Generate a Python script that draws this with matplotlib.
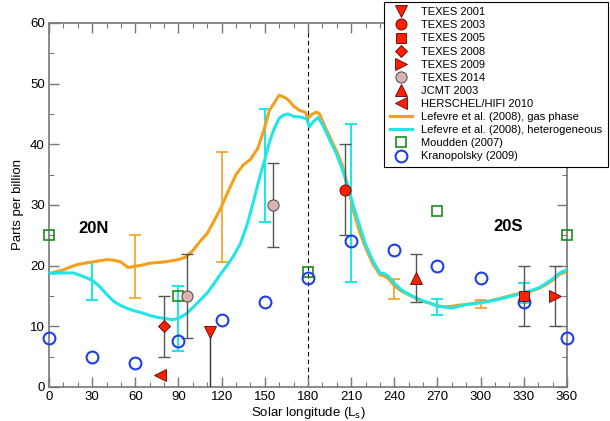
import matplotlib
matplotlib.use("Agg")
import matplotlib.pyplot as plt
import numpy as np

plt.rcParams['font.family'] = ['Liberation Sans', 'DejaVu Sans']

# ---------------- data ----------------
gas_L = [0, 5, 10, 15, 20, 25, 30, 35, 40, 45, 50, 55, 60, 65, 70, 75, 80, 85, 90, 95,
         100, 105, 110, 115, 120, 125, 130, 135, 140, 145, 150, 153, 157, 160, 163, 166,
         170, 174, 178, 180, 183, 186, 188, 192, 196, 200, 204, 208, 212, 216, 220, 225,
         230, 233, 236, 240, 245, 250, 255, 260, 265, 270, 275, 280, 285, 290, 295, 300,
         305, 310, 315, 320, 325, 330, 335, 340, 345, 350, 355, 360]
gas_v = [18.7, 19.0, 19.3, 19.8, 20.2, 20.4, 20.6, 20.8, 21.0, 20.9, 20.6, 19.7, 19.9, 20.1,
         20.4, 20.5, 20.6, 20.8, 21.0, 21.4, 22.5, 24.0, 25.3, 27.5, 29.8, 32.5, 35.0, 36.6,
         37.5, 39.3, 42.8, 45.5, 47.0, 48.1, 47.8, 47.4, 46.3, 45.6, 45.3, 44.3, 45.0, 45.3,
         45.0, 42.8, 40.8, 38.8, 36.5, 32.8, 28.7, 25.5, 23.0, 20.3, 18.5, 18.3, 17.8, 16.7,
         15.8, 15.2, 14.6, 14.1, 13.8, 13.4, 13.2, 13.3, 13.5, 13.6, 13.8, 14.0, 14.1, 14.4,
         14.7, 15.0, 15.3, 15.6, 15.8, 16.2, 16.8, 17.6, 18.6, 19.0]

het_L = [0, 10, 17, 24, 30, 35, 40, 45, 50, 55, 60, 65, 70, 75, 80, 86, 90, 95, 100, 105,
         110, 114, 118, 123, 128, 133, 138, 142, 146, 150, 153, 156, 160, 163, 166, 170,
         175, 179, 181, 184, 187, 190, 195, 200, 204, 208, 212, 216, 220, 225, 230, 233,
         236, 240, 245, 250, 255, 260, 265, 270, 275, 280, 285, 290, 295, 300, 305, 310,
         315, 320, 325, 330, 335, 340, 345, 350, 355, 360]
het_v = [18.7, 18.8, 18.8, 18.2, 17.6, 16.6, 15.3, 14.1, 13.4, 12.9, 12.5, 12.2, 11.8, 11.5,
         11.3, 11.1, 11.3, 12.0, 13.1, 14.3, 15.5, 16.8, 18.2, 19.8, 21.5, 23.6, 27.0, 30.5,
         34.2, 37.5, 40.2, 42.3, 44.3, 44.8, 45.0, 44.6, 44.5, 44.2, 42.9, 43.8, 44.4, 43.3,
         40.8, 38.3, 35.8, 32.8, 29.5, 26.5, 23.5, 20.8, 18.8, 18.7, 18.2, 17.1, 16.0, 15.3,
         14.7, 14.2, 13.8, 13.3, 13.2, 13.0, 13.3, 13.6, 13.7, 13.9, 14.1, 14.3, 14.6, 14.9,
         15.2, 15.6, 15.9, 16.3, 17.0, 17.8, 18.8, 19.3]

# model error bars: Ls, low, high
gas_err_L = [60, 120, 240, 300]
gas_err_lo = [14.6, 20.6, 14.5, 13.1]
gas_err_hi = [25.1, 38.8, 17.8, 14.3]
het_err_L = [30, 90, 150, 210, 270, 330]
het_err_lo = [14.3, 6.0, 27.2, 17.3, 11.9, 13.8]
het_err_hi = [20.6, 16.6, 45.9, 43.4, 14.5, 17.2]

# observations
texes2001_L, texes2001_v, texes2001_elo, texes2001_ehi = [112], [9.0], [9.0], [0.0]
texes2003_L, texes2003_v, texes2003_e = [206], [32.5], [7.5]
texes2005_L, texes2005_v, texes2005_e = [330], [15.0], [5.0]
texes2008_L, texes2008_v, texes2008_e = [80], [10.0], [5.0]
texes2009_L, texes2009_v, texes2009_e = [352], [15.0], [5.0]
texes2014_L, texes2014_v, texes2014_e = [96, 156], [15.0, 30.0], [7.0, 7.0]
jcmt_L, jcmt_v, jcmt_e = [255], [18.0], [4.0]
herschel_L, herschel_v = [77], [2.0]

moudden_L = [0, 90, 180, 270, 360]
moudden_v = [25, 15, 19, 29, 25]
krasno_L = [0, 30, 60, 90, 120, 150, 180, 210, 240, 270, 300, 330, 360]
krasno_v = [8, 5, 4, 7.5, 11, 14, 18, 24, 22.5, 20, 18, 14, 8]

# ---------------- style ----------------
ORANGE = '#f5a01c'
CYAN = '#22e6e6'
RED = '#ff2000'
PINK = '#d9b3b0'
GRAY_ERR = '#555555'

fig = plt.figure(figsize=(6.10, 4.21), dpi=100)
ax = fig.add_axes([0.0803, 0.0808, 0.8492, 0.8646])

# models
ax.plot(gas_L, gas_v, color=ORANGE, lw=2.2, label='Lefevre et al. (2008), gas phase', zorder=3)
ax.plot(het_L, het_v, color=CYAN, lw=2.2, label='Lefevre et al. (2008), heterogeneous', zorder=3)

gmid = [(a + b) / 2 for a, b in zip(gas_err_lo, gas_err_hi)]
ax.errorbar(gas_err_L, gmid,
            yerr=[np.subtract(gmid, gas_err_lo), np.subtract(gas_err_hi, gmid)],
            fmt='none', ecolor=ORANGE, elinewidth=1.2, capsize=4, capthick=1.2, zorder=2)
hmid = [(a + b) / 2 for a, b in zip(het_err_lo, het_err_hi)]
ax.errorbar(het_err_L, hmid,
            yerr=[np.subtract(hmid, het_err_lo), np.subtract(het_err_hi, hmid)],
            fmt='none', ecolor=CYAN, elinewidth=1.5, capsize=4, capthick=1.5, zorder=2)

# vertical dashed line at Ls=180
ax.axvline(180, color='black', lw=0.8, ls=(0, (4, 3)), zorder=1)

# observation error bars
ekw = dict(fmt='none', ecolor=GRAY_ERR, elinewidth=1.0, capsize=4, capthick=1.0, zorder=4)
ax.errorbar(texes2001_L, texes2001_v, yerr=[texes2001_elo, texes2001_ehi],
            fmt='none', ecolor='#333333', elinewidth=1.0, capsize=0, zorder=4)
ax.errorbar(texes2003_L, texes2003_v, yerr=texes2003_e, **ekw)
ax.errorbar(texes2005_L, texes2005_v, yerr=texes2005_e, **ekw)
ax.errorbar(texes2008_L, texes2008_v, yerr=texes2008_e, **ekw)
ax.errorbar(texes2009_L, texes2009_v, yerr=texes2009_e, **ekw)
ax.errorbar(texes2014_L, texes2014_v, yerr=texes2014_e, **ekw)
ax.errorbar(jcmt_L, jcmt_v, yerr=jcmt_e, **ekw)

mkw = dict(ls='none', mfc=RED, mec='#600000', mew=0.6, zorder=6)
ax.plot(texes2001_L, texes2001_v, marker='v', ms=8, label='TEXES 2001', **mkw)
ax.plot(texes2003_L, texes2003_v, marker='o', ms=8, label='TEXES 2003', **mkw)
ax.plot(texes2005_L, texes2005_v, marker='s', ms=7, label='TEXES 2005', **mkw)
ax.plot(texes2008_L, texes2008_v, marker='D', ms=6.5, label='TEXES 2008', **mkw)
ax.plot(texes2009_L, texes2009_v, marker='>', ms=8, label='TEXES 2009', **mkw)
ax.plot(texes2014_L, texes2014_v, marker='o', ms=8, ls='none', mfc=PINK, mec='#555555',
        mew=0.8, label='TEXES 2014', zorder=6)
ax.plot(jcmt_L, jcmt_v, marker='^', ms=8, label='JCMT 2003', **mkw)
ax.plot(herschel_L, herschel_v, marker='<', ms=8, label='HERSCHEL/HIFI 2010', **mkw)

ax.plot(moudden_L, moudden_v, marker='s', ms=7, ls='none', mfc='none', mec='#1a8c1a',
        mew=1.2, label='Moudden (2007)', zorder=5, clip_on=False)
ax.plot(krasno_L, krasno_v, marker='o', ms=8.5, ls='none', mfc='none', mec='#1f3fe6',
        mew=1.5, label='Kranopolsky (2009)', zorder=5, clip_on=False)

# text
ax.text(31, 26.2, '20N', fontsize=12, fontweight='bold', ha='center', va='center')
ax.text(319, 26.4, '20S', fontsize=12, fontweight='bold', ha='center', va='center')

# axes
ax.set_xlim(0, 360)
ax.set_ylim(0, 60)
ax.set_xticks(np.arange(0, 361, 30))
ax.set_xticks(np.arange(0, 361, 10), minor=True)
ax.set_yticks(np.arange(0, 61, 10))
ax.set_yticks(np.arange(0, 61, 5), minor=True)
ax.tick_params(which='both', direction='in', top=True, right=True, color='#777777',
               labelsize=9.5, pad=3)
ax.tick_params(which='major', length=7, width=1.0)
ax.tick_params(which='minor', length=3.5, width=0.8)
for s in ax.spines.values():
    s.set_color('#777777')
    s.set_linewidth(1.2)
ax.set_xlabel(r'Solar longitude (L$_\mathrm{s}$)', fontsize=9.5, labelpad=1)
ax.set_ylabel('Parts per billion', fontsize=9.5, labelpad=4)

# legend
order = ['TEXES 2001', 'TEXES 2003', 'TEXES 2005', 'TEXES 2008', 'TEXES 2009', 'TEXES 2014',
         'JCMT 2003', 'HERSCHEL/HIFI 2010', 'Lefevre et al. (2008), gas phase',
         'Lefevre et al. (2008), heterogeneous', 'Moudden (2007)', 'Kranopolsky (2009)']
h, l = ax.get_legend_handles_labels()
d = dict(zip(l, h))
leg = ax.legend([d[k] for k in order], order, loc='upper right',
                bbox_to_anchor=(0.996, 0.996), bbox_transform=fig.transFigure,
                fontsize=8, frameon=True, fancybox=False, framealpha=1,
                edgecolor='black', labelspacing=0.28, handlelength=2.0,
                handletextpad=0.8, borderpad=0.5, borderaxespad=0)
leg.get_frame().set_linewidth(0.8)
leg.set_zorder(10)

fig.savefig('out.png', dpi=100)
